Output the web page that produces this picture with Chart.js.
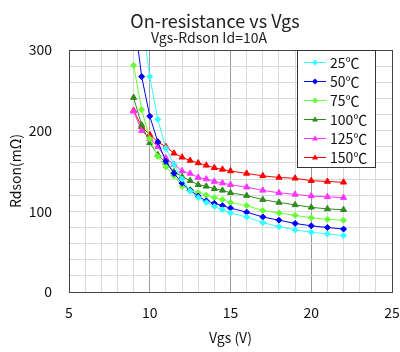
<!DOCTYPE html>
<html>
<head>
<meta charset="utf-8">
<script src="https://cdn.jsdelivr.net/npm/chart.js@4"></script>
<style>
body{margin:0;background:#fff;}
</style>
</head>
<body>
<canvas id="rdsonChart" width="400" height="352"></canvas>
<script>
// gate voltage steps (V)
const vgs = [9, 9.5, 10, 10.5, 11, 11.5, 12, 12.5, 13, 13.5, 14, 14.5, 15, 16, 17, 18, 19, 20, 21, 22];

// Rdson (mOhm) per junction temperature
const r25  = [null, 340, 267, 214, 178, 158, 140, 125, 117, 111, 106, 102, 98, 93, 86, 81, 77, 74, 72, 70];
const r50  = [345, 267, 218, 186, 162, 147, 135, 126, 119, 113, 110, 107, 104, 99, 93, 89, 85, 82, 80, 78];
const r75  = [281, 226, 190, 168, 155, 144, 131, 127, 123, 120, 117, 114.5, 111, 107, 101, 98, 95, 92, 90, 89];
const r100 = [241, 207, 185, 170, 160, 149, 143, 138, 133, 131, 128, 126, 123, 119.5, 114.5, 111, 108, 105, 103, 102];
const r125 = [224, 200, 190, 180, 166, 158, 150, 147, 142, 140, 137, 135, 133, 130, 126, 123, 121, 119, 118, 117];
const r150 = [225, 205, 195, 186, 180, 172, 167, 163, 160, 157, 154, 152, 150, 147, 144, 142, 141, 138, 137, 136];

const seriesLabels = ["25℃", "50℃", "75℃", "100℃", "125℃", "150℃"];
const seriesValues = [r25, r50, r75, r100, r125, r150];
const seriesColors = ["#33ffff", "#0000ff", "#66ff33", "#2e8b1e", "#ff33ff", "#ff0000"];
const seriesMarks  = ["rectRot", "rectRot", "rectRot", "triangle", "triangle", "triangle"];

const xTicks = [5, 10, 15, 20, 25];
const yTicks = [0, 100, 200, 300];

const FONT = "'Noto Sans CJK JP', 'Noto Sans', sans-serif";

function drawMark(ctx, style, x, y, r, color){
    ctx.fillStyle = color;
    ctx.beginPath();
    if(style === "triangle"){
        ctx.moveTo(x, y - r * 1.1);
        ctx.lineTo(x + r, y + r * 0.7);
        ctx.lineTo(x - r, y + r * 0.7);
    }else{
        ctx.moveTo(x, y - r);
        ctx.lineTo(x + r, y);
        ctx.lineTo(x, y + r);
        ctx.lineTo(x - r, y);
    }
    ctx.closePath();
    ctx.fill();
}

const frameAndText = {
    id: "frameAndText",
    afterDraw(chart){
        const ctx = chart.ctx;
        const a = chart.chartArea;

        ctx.save();

        // plot frame
        ctx.strokeStyle = "#444";
        ctx.lineWidth = 1;
        ctx.strokeRect(Math.round(a.left) + 0.5, Math.round(a.top) + 0.5,
            Math.round(a.right - a.left), Math.round(a.bottom - a.top));

        // titles
        ctx.fillStyle = "#222";
        ctx.textAlign = "center";
        ctx.textBaseline = "middle";
        ctx.font = "18px " + FONT;
        ctx.fillText("On-resistance vs Vgs", 215, 21);
        ctx.font = "14px " + FONT;
        ctx.fillText("Vgs-Rdson Id=10A", 209, 38);

        // legend box
        ctx.fillStyle = "#fff";
        ctx.fillRect(297, 50, 78, 117);
        ctx.strokeStyle = "#333";
        ctx.strokeRect(297.5, 50.5, 78, 117);

        ctx.textAlign = "left";
        ctx.font = "14px " + FONT;
        seriesLabels.forEach((lab, i) => {
            const y = 62 + i * 19;
            ctx.strokeStyle = seriesColors[i];
            ctx.lineWidth = 1;
            ctx.beginPath();
            ctx.moveTo(304, y + 0.5);
            ctx.lineTo(326, y + 0.5);
            ctx.stroke();
            drawMark(ctx, seriesMarks[i], 315, y + 0.5, 3, seriesColors[i]);
            ctx.fillStyle = "#111";
            ctx.fillText(lab, 330, y + 1);
        });

        ctx.restore();
    }
};

const datasets = seriesValues.map((vals, i) => ({
    label: seriesLabels[i],
    data: vgs.map((v, k) => ({x: v, y: vals[k]})),
    borderColor: seriesColors[i],
    backgroundColor: seriesColors[i],
    pointBackgroundColor: seriesColors[i],
    pointBorderColor: seriesColors[i],
    pointStyle: seriesMarks[i],
    pointRadius: seriesMarks[i] === "triangle" ? 3.5 : 3,
    borderWidth: 1,
    tension: 0,
    spanGaps: false
}));

new Chart(
    document.getElementById("rdsonChart"),
    {
        type: "line",
        data: { datasets: datasets },
        plugins: [frameAndText],
        options: {
            responsive: false,
            animation: false,
            devicePixelRatio: 1,
            layout: { padding: { top: 50, right: 8, left: 0, bottom: 0 } },
            plugins: {
                legend: { display: false },
                title: { display: false },
                tooltip: { enabled: false }
            },
            scales: {
                x: {
                    type: "linear",
                    min: 5,
                    max: 25,
                    afterFit: s => { s.height = 60; s.paddingLeft = 0; s.paddingRight = 0; },
                    border: { display: false },
                    grid: {
                        drawTicks: false,
                        color: c => (c.tick.value % 5 === 0 ? "#9a9a9a" : "#d9d9d9")
                    },
                    ticks: {
                        stepSize: 1,
                        autoSkip: false,
                        maxRotation: 0,
                        padding: 12,
                        color: "#111",
                        font: { family: FONT, size: 14 },
                        callback: v => (xTicks.includes(v) ? String(v) : "")
                    },
                    title: {
                        display: true,
                        text: "Vgs (V)",
                        color: "#111",
                        font: { family: FONT, size: 14 },
                        padding: { top: 0, bottom: 6 }
                    }
                },
                y: {
                    min: 0,
                    max: 300,
                    afterFit: s => { s.width = 69; s.paddingTop = 0; s.paddingBottom = 0; },
                    border: { display: false },
                    grid: {
                        drawTicks: false,
                        color: "#d9d9d9"
                    },
                    ticks: {
                        stepSize: 20,
                        autoSkip: false,
                        padding: 17,
                        color: "#111",
                        font: { family: FONT, size: 14 },
                        callback: v => (yTicks.includes(v) ? String(v) : "")
                    },
                    title: {
                        display: true,
                        text: "Rdson(mΩ)",
                        color: "#111",
                        font: { family: FONT, size: 14 },
                        padding: { top: 7, bottom: 0 }
                    }
                }
            }
        }
    }
);
</script>
</body>
</html>
